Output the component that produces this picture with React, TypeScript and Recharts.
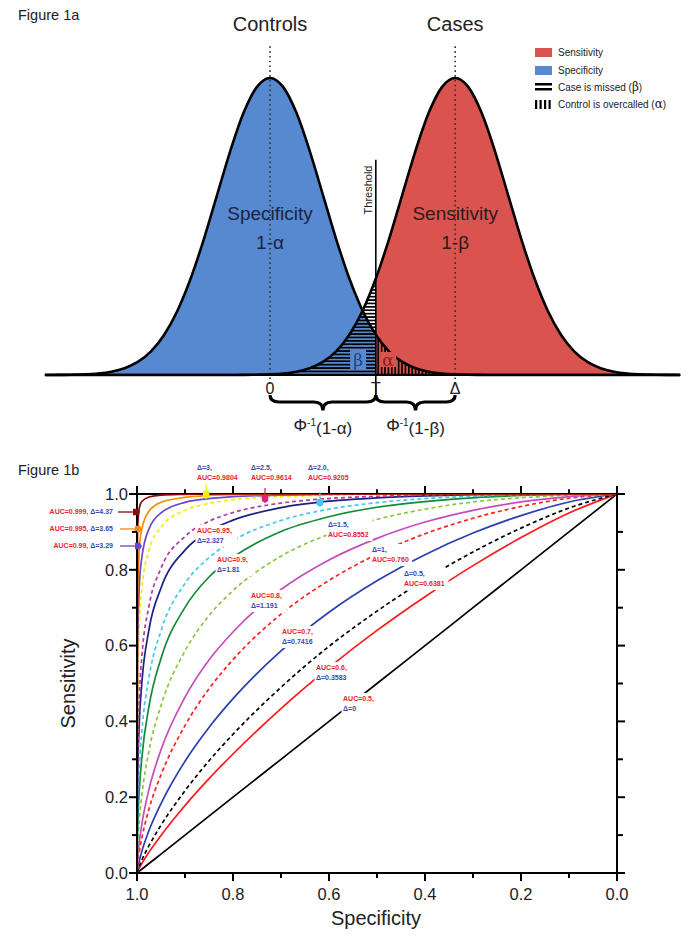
import React from 'react';
import {
  ComposedChart, Area, Line, XAxis, YAxis,
  ReferenceLine, ReferenceDot, ReferenceArea,
} from 'recharts';

const FONT = '"Liberation Sans", Arial, Helvetica, sans-serif';
const SERIF = '"DejaVu Serif", "Liberation Serif", serif';

// ---------- Figure 1a data ----------
const densityX = [-4.5, -4.25, -4, -3.75, -3.5, -3.25, -3, -2.75, -2.5, -2.25, -2, -1.75, -1.5, -1.25, -1, -0.75, -0.5, -0.25, 0, 0.25, 0.5, 0.75, 1, 1.25, 1.5, 1.75, 2, 2.25, 2.5, 2.75, 3, 3.25, 3.5, 3.75, 4, 4.25, 4.5, 4.75, 5, 5.25, 5.5, 5.75, 6, 6.25, 6.5, 6.75, 7, 7.25, 7.5, 7.75, 8];
const controlsDensity = [0, 0, 0.0001, 0.0004, 0.0009, 0.002, 0.0044, 0.0091, 0.0175, 0.0317, 0.054, 0.0863, 0.1295, 0.1826, 0.242, 0.3011, 0.3521, 0.3867, 0.3989, 0.3867, 0.3521, 0.3011, 0.242, 0.1826, 0.1295, 0.0863, 0.054, 0.0317, 0.0175, 0.0091, 0.0044, 0.002, 0.0009, 0.0004, 0.0001, 0, 0, 0, 0, 0, 0, 0, 0, 0, 0, 0, 0, 0, 0, 0, 0];
const casesDensity = [0, 0, 0, 0, 0, 0, 0, 0, 0, 0, 0, 0, 0, 0, 0, 0, 0.0001, 0.0004, 0.0009, 0.002, 0.0044, 0.0091, 0.0175, 0.0317, 0.054, 0.0863, 0.1295, 0.1826, 0.242, 0.3011, 0.3521, 0.3867, 0.3989, 0.3867, 0.3521, 0.3011, 0.242, 0.1826, 0.1295, 0.0863, 0.054, 0.0317, 0.0175, 0.0091, 0.0044, 0.002, 0.0009, 0.0004, 0.0001, 0, 0];
const controlMean = 0;
const caseMean = 3.5;
const threshold = 2.0;
const baselineFrom = -4.26;
const baselineTo = 7.76;

// ---------- Figure 1b data ----------
const specificity = [1, 0.999, 0.995, 0.99, 0.975, 0.95, 0.9, 0.85, 0.8, 0.7, 0.6, 0.5, 0.4, 0.3, 0.2, 0.1, 0];
const sensD0 = [0, 0.001, 0.005, 0.01, 0.025, 0.05, 0.1, 0.15, 0.2, 0.3, 0.4, 0.5, 0.6, 0.7, 0.8, 0.9, 1];
const sensD03583 = [0, 0.003, 0.013, 0.025, 0.055, 0.099, 0.178, 0.249, 0.314, 0.434, 0.542, 0.64, 0.729, 0.811, 0.885, 0.95, 1];
const sensD05 = [0, 0.005, 0.019, 0.034, 0.072, 0.126, 0.217, 0.296, 0.366, 0.49, 0.598, 0.691, 0.774, 0.847, 0.91, 0.963, 1];
const sensD07416 = [0, 0.009, 0.033, 0.057, 0.112, 0.183, 0.295, 0.384, 0.46, 0.586, 0.688, 0.771, 0.84, 0.897, 0.943, 0.979, 1];
const sensD1 = [0, 0.018, 0.058, 0.092, 0.169, 0.259, 0.389, 0.486, 0.563, 0.683, 0.772, 0.841, 0.895, 0.936, 0.967, 0.989, 1];
const sensD1191 = [0, 0.029, 0.083, 0.128, 0.221, 0.325, 0.464, 0.562, 0.636, 0.748, 0.826, 0.883, 0.926, 0.957, 0.979, 0.993, 1];
const sensD15 = [0, 0.056, 0.141, 0.204, 0.323, 0.442, 0.586, 0.679, 0.745, 0.836, 0.894, 0.933, 0.96, 0.979, 0.99, 0.997, 1];
const sensD181 = [0, 0.1, 0.222, 0.303, 0.44, 0.566, 0.701, 0.781, 0.833, 0.901, 0.94, 0.965, 0.98, 0.99, 0.996, 0.999, 1];
const sensD2 = [0, 0.138, 0.282, 0.372, 0.516, 0.639, 0.764, 0.832, 0.877, 0.93, 0.96, 0.977, 0.988, 0.994, 0.998, 0.9995, 1];
const sensD2327 = [0, 0.223, 0.402, 0.5, 0.643, 0.752, 0.852, 0.902, 0.931, 0.964, 0.981, 0.99, 0.995, 0.998, 0.999, 1, 1];
const sensD25 = [0, 0.278, 0.47, 0.569, 0.705, 0.804, 0.888, 0.928, 0.951, 0.976, 0.988, 0.994, 0.997, 0.999, 1, 1, 1];
const sensD3 = [0, 0.464, 0.664, 0.75, 0.851, 0.912, 0.957, 0.975, 0.985, 0.993, 0.997, 0.999, 1, 1, 1, 1, 1];
const sensD329 = [0, 0.579, 0.762, 0.832, 0.908, 0.95, 0.978, 0.988, 0.993, 0.997, 0.999, 1, 1, 1, 1, 1, 1];
const sensD365 = [0, 0.712, 0.859, 0.907, 0.955, 0.978, 0.991, 0.996, 0.998, 0.999, 1, 1, 1, 1, 1, 1, 1];
const sensD437 = [0, 0.9, 0.964, 0.98, 0.992, 0.997, 0.999, 1, 1, 1, 1, 1, 1, 1, 1, 1, 1];
const axisTicks = [0, 0.1, 0.2, 0.3, 0.4, 0.5, 0.6, 0.7, 0.8, 0.9, 1];

const BLUE = '#5689d0';
const RED = '#d9534f';
const TXT_RED = '#ee2030';
const TXT_BLUE = '#3a48a8';
const DASH = '4 3';

const rocSeries = [
  { key: 'd0', values: sensD0, color: '#000000', dash: undefined as string | undefined },
  { key: 'd03583', values: sensD03583, color: '#ff1a1a', dash: undefined },
  { key: 'd05', values: sensD05, color: '#000000', dash: DASH },
  { key: 'd07416', values: sensD07416, color: '#2b3fae', dash: undefined },
  { key: 'd1', values: sensD1, color: '#ff2020', dash: DASH },
  { key: 'd1191', values: sensD1191, color: '#c54cbf', dash: undefined },
  { key: 'd15', values: sensD15, color: '#8cc63f', dash: DASH },
  { key: 'd181', values: sensD181, color: '#138a36', dash: undefined },
  { key: 'd2', values: sensD2, color: '#45c8ea', dash: DASH },
  { key: 'd2327', values: sensD2327, color: '#1d2080', dash: undefined },
  { key: 'd25', values: sensD25, color: '#b5399f', dash: DASH },
  { key: 'd3', values: sensD3, color: '#f2ee00', dash: DASH },
  { key: 'd329', values: sensD329, color: '#6a48c6', dash: undefined },
  { key: 'd365', values: sensD365, color: '#ff8c00', dash: undefined },
  { key: 'd437', values: sensD437, color: '#8b0a0a', dash: undefined },
];

const inBase = (x: number) => x >= baselineFrom && x <= baselineTo;
const densityRows = densityX.map((x, i) => ({
  x,
  controls: inBase(x) ? controlsDensity[i] : null,
  cases: inBase(x) ? casesDensity[i] : null,
  specArea: inBase(x) && x <= threshold ? controlsDensity[i] : null,
  sensArea: inBase(x) && x >= threshold ? casesDensity[i] : null,
  betaArea: inBase(x) && x <= threshold ? casesDensity[i] : null,
  alphaArea: inBase(x) && x >= threshold ? controlsDensity[i] : null,
}));

const rocRows = specificity.map((s, i) => {
  const r: Record<string, number> = { spec: s };
  rocSeries.forEach((ser) => { r[ser.key] = ser.values[i]; });
  return r;
});

type LineSpec = { text: string; color: string };
const rocLabels: { spec: number; sens: number; lines: LineSpec[]; bg: boolean }[] = [
  { spec: 0.875, sens: 1.071, bg: false, lines: [{ text: 'Δ=3,', color: TXT_BLUE }, { text: 'AUC=0.9804', color: TXT_RED }] },
  { spec: 0.7625, sens: 1.071, bg: false, lines: [{ text: 'Δ=2.5,', color: TXT_BLUE }, { text: 'AUC=0.9614', color: TXT_RED }] },
  { spec: 0.644, sens: 1.071, bg: false, lines: [{ text: 'Δ=2.0,', color: TXT_BLUE }, { text: 'AUC=0.9205', color: TXT_RED }] },
  { spec: 0.875, sens: 0.9024, bg: true, lines: [{ text: 'AUC=0.95,', color: TXT_RED }, { text: 'Δ=2.327', color: TXT_BLUE }] },
  { spec: 0.8333, sens: 0.8259, bg: true, lines: [{ text: 'AUC=0.9,', color: TXT_RED }, { text: 'Δ=1.81', color: TXT_BLUE }] },
  { spec: 0.6021, sens: 0.9182, bg: true, lines: [{ text: 'Δ=1.5,', color: TXT_BLUE }, { text: 'AUC=0.8552', color: TXT_RED }] },
  { spec: 0.5104, sens: 0.8522, bg: true, lines: [{ text: 'Δ=1,', color: TXT_BLUE }, { text: 'AUC=0.760', color: TXT_RED }] },
  { spec: 0.4438, sens: 0.7889, bg: true, lines: [{ text: 'Δ=0.5,', color: TXT_BLUE }, { text: 'AUC=0.6381', color: TXT_RED }] },
  { spec: 0.7625, sens: 0.7309, bg: true, lines: [{ text: 'AUC=0.8,', color: TXT_RED }, { text: 'Δ=1.191', color: TXT_BLUE }] },
  { spec: 0.6979, sens: 0.6359, bg: true, lines: [{ text: 'AUC=0.7,', color: TXT_RED }, { text: 'Δ=0.7416', color: TXT_BLUE }] },
  { spec: 0.6271, sens: 0.5409, bg: true, lines: [{ text: 'AUC=0.6,', color: TXT_RED }, { text: 'Δ=0.3583', color: TXT_BLUE }] },
  { spec: 0.5708, sens: 0.4591, bg: true, lines: [{ text: 'AUC=0.5,', color: TXT_RED }, { text: 'Δ=0', color: TXT_BLUE }] },
];

const sideLabels = [
  { spec: 1.05, sens: 0.9525, auc: 'AUC=0.999,', delta: 'Δ=4.37' },
  { spec: 1.05, sens: 0.9077, auc: 'AUC=0.995,', delta: 'Δ=3.65' },
  { spec: 1.05, sens: 0.8628, auc: 'AUC=0.99,', delta: 'Δ=3.29' },
];
const sideArrows = [
  { spec: 0.9937, sens: 0.9525, color: '#8b0a0a' },
  { spec: 0.9896, sens: 0.9077, color: '#ff8c00' },
  { spec: 0.9896, sens: 0.8628, color: '#6a48c6' },
];
const topArrows = [
  { spec: 0.856, sens: 0.9868, color: '#f2ee00' },
  { spec: 0.7333, sens: 0.9763, color: '#e0207a' },
  { spec: 0.6188, sens: 0.9657, color: '#45c8ea' },
];

// ---------- helpers ----------
const isMajor = (v: number) => Math.round(v * 10) % 2 === 0;

const BottomTick = (p: any) => {
  const v = p.payload.value;
  return (
    <g>
      <line x1={p.x} x2={p.x} y1={p.y} y2={p.y + (isMajor(v) ? 8 : 5)} stroke="#000" strokeWidth={2} />
      {isMajor(v) && (
        <text x={p.x} y={p.y + 21} dy="0.35em" textAnchor="middle" fontSize={16.5} fill="#222" fontFamily={FONT}>{v.toFixed(1)}</text>
      )}
    </g>
  );
};
const LeftTick = (p: any) => {
  const v = p.payload.value;
  return (
    <g>
      <line x1={p.x} x2={p.x - (isMajor(v) ? 8 : 5)} y1={p.y} y2={p.y} stroke="#000" strokeWidth={2} />
      {isMajor(v) && (
        <text x={p.x - 9} y={p.y} dy="0.35em" textAnchor="end" fontSize={16.5} fill="#222" fontFamily={FONT}>{v.toFixed(1)}</text>
      )}
    </g>
  );
};
const RightTick = (p: any) => {
  const v = p.payload.value;
  return <line x1={p.x} x2={p.x + (isMajor(v) ? 8 : 6)} y1={p.y} y2={p.y} stroke="#000" strokeWidth={2} />;
};

// top frame + ticks drawn inside the box that the x scale gives for [1 .. 0] x [1 .. 1.021]
const topFrameShape = (p: any) => {
  const { x, y, width, height } = p;
  const bottom = y + height;
  return (
    <g>
      <line x1={x - 1} x2={x + width + 1} y1={bottom} y2={bottom} stroke="#000" strokeWidth={2} />
      {axisTicks.map((v) => {
        const tx = x + width * (1 - v);
        return (
          <line key={v} x1={tx} x2={tx} y1={bottom + 1} y2={bottom - (isMajor(v) ? height : height * 0.6)} stroke="#000" strokeWidth={2} />
        );
      })}
    </g>
  );
};

const textShape = (content: React.ReactNode, opts: any = {}) => (p: any) => (
  <text
    x={p.cx}
    y={p.cy}
    dy="0.35em"
    textAnchor={opts.anchor || 'middle'}
    fontSize={opts.size || 16}
    fill={opts.color || '#222'}
    fontFamily={opts.font || FONT}
    fontWeight={opts.weight || 'normal'}
    transform={opts.rotate ? `rotate(-90 ${p.cx} ${p.cy})` : undefined}
  >
    {content}
  </text>
);

const braceShape = (p: any) => {
  const { x, y, width: w, height: h } = p;
  const q = 9;
  const m = y + h * 0.45;
  const d = `M${x},${y} Q${x},${m} ${x + q},${m} L${x + w / 2 - q},${m} Q${x + w / 2},${m} ${x + w / 2},${y + h} Q${x + w / 2},${m} ${x + w / 2 + q},${m} L${x + w - q},${m} Q${x + w},${m} ${x + w},${y}`;
  return <path d={d} fill="none" stroke="#000" strokeWidth={3.2} />;
};

const Legend1a = () => (
  <svg width={160} height={80} style={{ position: 'absolute', left: 530, top: 40 }}>
    <rect x={5} y={8} width={17} height={9} fill={RED} />
    <text x={28} y={12.5} dy="0.35em" fontSize={10} fill="#222" fontFamily={FONT}>Sensitivity</text>
    <rect x={5} y={26} width={17} height={9} fill={BLUE} />
    <text x={28} y={30.5} dy="0.35em" fontSize={10} fill="#222" fontFamily={FONT}>Specificity</text>
    <rect x={5} y={43} width={17} height={2.5} fill="#000" />
    <rect x={5} y={48} width={17} height={2.5} fill="#000" />
    <text x={28} y={47} dy="0.35em" fontSize={10} fill="#222" fontFamily={FONT}>
      Case is missed (<tspan fontFamily={SERIF} fontSize={12}>β</tspan>)
    </text>
    <rect x={5} y={60} width={2.2} height={9} fill="#000" />
    <rect x={9.5} y={60} width={2.2} height={9} fill="#000" />
    <rect x={14} y={60} width={2.2} height={9} fill="#000" />
    <rect x={18.5} y={60} width={2.2} height={9} fill="#000" />
    <text x={28} y={64.5} dy="0.35em" fontSize={10} fill="#222" fontFamily={FONT}>
      Control is overcalled (<tspan fontFamily={SERIF} fontSize={12}>α</tspan>)
    </text>
  </svg>
);

const RocLabelShape = (lines: LineSpec[], bg: boolean) => (p: any) => {
  const lh = 10;
  const w = Math.max(...lines.map((l) => l.text.length)) * 4.3 + 3;
  return (
    <g>
      {bg && <rect x={p.cx - 1.5} y={p.cy - 6} width={w} height={lines.length * lh + 2} fill="#fff" />}
      {lines.map((l, i) => (
        <text key={i} x={p.cx} y={p.cy + i * lh} dy="0.35em" fontSize={7} fontWeight="bold" fill={l.color} fontFamily={FONT}>
          {l.text}
        </text>
      ))}
    </g>
  );
};

const sideLabelShape = (auc: string, delta: string) => (p: any) => (
  <text x={p.cx} y={p.cy} dy="0.35em" textAnchor="end" fontSize={7} fontWeight="bold" fontFamily={FONT}>
    <tspan fill={TXT_RED}>{auc} </tspan>
    <tspan fill={TXT_BLUE}>{delta}</tspan>
  </text>
);

const sideArrowShape = (color: string) => (p: any) => (
  <g>
    <line x1={p.cx - 22} x2={p.cx - 5} y1={p.cy} y2={p.cy} stroke={color} strokeWidth={1.3} />
    <path d={`M${p.cx - 7},${p.cy - 3.2} L${p.cx - 2},${p.cy - 3.2} L${p.cx},${p.cy} L${p.cx - 2},${p.cy + 3.2} L${p.cx - 7},${p.cy + 3.2} Z`} fill={color} />
  </g>
);
const topArrowShape = (color: string) => (p: any) => (
  <g>
    <line x1={p.cx} x2={p.cx} y1={p.cy - 15} y2={p.cy - 5} stroke={color} strokeWidth={1.3} />
    <path d={`M${p.cx - 3.2},${p.cy - 8} L${p.cx - 3.2},${p.cy - 2} L${p.cx},${p.cy} L${p.cx + 3.2},${p.cy - 2} L${p.cx + 3.2},${p.cy - 8} Z`} fill={color} />
  </g>
);

const Figure1a = () => (
  <div style={{ position: 'absolute', left: 0, top: 0 }}>
    <ComposedChart width={691} height={455} data={densityRows} margin={{ top: 0, right: 0, bottom: 0, left: 0 }}>
      <defs>
        <pattern id="hatchH" patternUnits="userSpaceOnUse" width={6} height={3.4}>
          <rect x={0} y={0} width={6} height={1.7} fill="#000" />
        </pattern>
        <pattern id="hatchV" patternUnits="userSpaceOnUse" width={3.4} height={6}>
          <rect x={0} y={0} width={1.6} height={6} fill="#000" />
        </pattern>
      </defs>
      <XAxis dataKey="x" type="number" domain={[-5.104, 7.958]} hide allowDataOverflow />
      <YAxis type="number" domain={[-0.1075, 0.5037]} hide allowDataOverflow />
      <Area dataKey="specArea" type="monotone" fill={BLUE} fillOpacity={1} stroke="none" baseValue={0} dot={false} activeDot={false} isAnimationActive={false} />
      <Area dataKey="sensArea" type="monotone" fill={RED} fillOpacity={1} stroke="none" baseValue={0} dot={false} activeDot={false} isAnimationActive={false} />
      <Area dataKey="betaArea" type="monotone" fill="url(#hatchH)" fillOpacity={1} stroke="none" baseValue={0} dot={false} activeDot={false} isAnimationActive={false} />
      <Area dataKey="alphaArea" type="monotone" fill="url(#hatchV)" fillOpacity={1} stroke="none" baseValue={0} dot={false} activeDot={false} isAnimationActive={false} />
      <ReferenceLine segment={[{ x: controlMean, y: -0.012 }, { x: controlMean, y: 0.443 }]} stroke="#333" strokeWidth={1.6} strokeDasharray="1.6 3.2" />
      <ReferenceLine segment={[{ x: caseMean, y: -0.012 }, { x: caseMean, y: 0.443 }]} stroke="#333" strokeWidth={1.6} strokeDasharray="1.6 3.2" />
      <ReferenceLine segment={[{ x: threshold, y: -0.027 }, { x: threshold, y: 0.289 }]} stroke="#000" strokeWidth={1.6} />
      <ReferenceLine segment={[{ x: baselineFrom, y: 0 }, { x: baselineTo, y: 0 }]} stroke="#000" strokeWidth={2.2} />
      <Line dataKey="controls" type="monotone" stroke="#000" strokeWidth={2.6} dot={false} activeDot={false} isAnimationActive={false} />
      <Line dataKey="cases" type="monotone" stroke="#000" strokeWidth={2.6} dot={false} activeDot={false} isAnimationActive={false} />
      <ReferenceDot x={controlMean} y={0.4715} r={0} shape={textShape('Controls', { size: 20, color: '#222' })} />
      <ReferenceDot x={caseMean} y={0.4715} r={0} shape={textShape('Cases', { size: 20, color: '#222' })} />
      <ReferenceDot x={controlMean} y={0.2176} r={0} shape={textShape('Specificity', { size: 19, color: '#1c2340' })} />
      <ReferenceDot x={controlMean} y={0.1786} r={0} shape={textShape('1-α', { size: 19, color: '#1c2340' })} />
      <ReferenceDot x={caseMean} y={0.2176} r={0} shape={textShape('Sensitivity', { size: 19, color: '#2a1c1c' })} />
      <ReferenceDot x={caseMean} y={0.1786} r={0} shape={textShape('1-β', { size: 19, color: '#2a1c1c' })} />
      <ReferenceDot x={1.854} y={0.2485} r={0} shape={textShape('Threshold', { size: 11, color: '#222', rotate: true })} />
      <ReferenceDot x={1.665} y={0.0201} r={0} shape={(p: any) => (
        <g>
          <rect x={p.cx - 8} y={p.cy - 10} width={16} height={19} fill={BLUE} />
          <text x={p.cx} y={p.cy} dy="0.35em" textAnchor="middle" fontSize={17} fill="#243e7a" fontFamily={SERIF}>β</text>
        </g>
      )} />
      <ReferenceDot x={2.232} y={0.0201} r={0} shape={(p: any) => (
        <g>
          <rect x={p.cx - 8} y={p.cy - 8} width={16} height={15} fill={RED} />
          <text x={p.cx} y={p.cy} dy="0.35em" textAnchor="middle" fontSize={17} fill="#8a1f1f" fontFamily={SERIF}>α</text>
        </g>
      )} />
      <ReferenceDot x={controlMean} y={-0.0175} r={0} shape={textShape('0', { size: 16 })} />
      <ReferenceDot x={threshold} y={-0.0175} r={0} shape={textShape('T', { size: 16 })} />
      <ReferenceDot x={caseMean} y={-0.0175} r={0} shape={textShape('Δ', { size: 16 })} />
      <ReferenceArea x1={controlMean} x2={threshold} y1={-0.027} y2={-0.0477} shape={braceShape} />
      <ReferenceArea x1={threshold} x2={caseMean} y1={-0.027} y2={-0.0477} shape={braceShape} />
      <ReferenceDot x={1.0} y={-0.0672} r={0} shape={textShape(
        <>
          <tspan>Φ</tspan><tspan dy="-0.5em" fontSize={10}>-1</tspan><tspan dy="0.5em">(1-α)</tspan>
        </>, { size: 17 })} />
      <ReferenceDot x={2.75} y={-0.0672} r={0} shape={textShape(
        <>
          <tspan>Φ</tspan><tspan dy="-0.5em" fontSize={10}>-1</tspan><tspan dy="0.5em">(1-β)</tspan>
        </>, { size: 17 })} />
    </ComposedChart>
  </div>
);

const Figure1b = () => (
  <div style={{ position: 'absolute', left: 0, top: 455 }}>
    <ComposedChart width={691} height={485} data={rocRows} margin={{ top: 39, right: 64, bottom: 27, left: 77 }}>
      <XAxis dataKey="spec" type="number" domain={[0, 1]} reversed allowDataOverflow ticks={axisTicks} interval={0}
        tickSize={0} tickMargin={0} tickLine={false} axisLine={{ stroke: '#000', strokeWidth: 2 }} height={40} tick={BottomTick} />
      <YAxis type="number" domain={[0, 1]} allowDataOverflow ticks={axisTicks} interval={0}
        tickSize={0} tickMargin={0} tickLine={false} axisLine={{ stroke: '#000', strokeWidth: 2 }} width={60} tick={LeftTick} />
      <YAxis yAxisId="r" orientation="right" type="number" domain={[0, 1]} allowDataOverflow ticks={axisTicks} interval={0}
        tickSize={0} tickMargin={0} tickLine={false} axisLine={{ stroke: '#000', strokeWidth: 2 }} width={10} tick={RightTick} />
      {rocSeries.map((s) => (
        <Line key={s.key} dataKey={s.key} type="monotone" stroke={s.color} strokeWidth={1.7}
          strokeDasharray={s.dash} dot={false} activeDot={false} isAnimationActive={false} />
      ))}
      <ReferenceArea x1={1} x2={0} y1={1} y2={1.021} ifOverflow="visible" shape={topFrameShape} />
      {rocLabels.map((l, i) => (
        <ReferenceDot key={'rl' + i} x={l.spec} y={l.sens} r={0} ifOverflow="visible" shape={RocLabelShape(l.lines, l.bg)} />
      ))}
      {sideLabels.map((l, i) => (
        <ReferenceDot key={'sl' + i} x={l.spec} y={l.sens} r={0} ifOverflow="visible" shape={sideLabelShape(l.auc, l.delta)} />
      ))}
      {sideArrows.map((a, i) => (
        <ReferenceDot key={'sa' + i} x={a.spec} y={a.sens} r={0} ifOverflow="visible" shape={sideArrowShape(a.color)} />
      ))}
      {topArrows.map((a, i) => (
        <ReferenceDot key={'ta' + i} x={a.spec} y={a.sens} r={0} ifOverflow="visible" shape={topArrowShape(a.color)} />
      ))}
      <ReferenceDot x={1.14375} y={0.5} r={0} ifOverflow="visible" shape={textShape('Sensitivity', { size: 20, rotate: true })} />
      <ReferenceDot x={0.502} y={-0.1187} r={0} ifOverflow="visible" shape={textShape('Specificity', { size: 20 })} />
    </ComposedChart>
  </div>
);

export default function App() {
  return (
    <div style={{ position: 'absolute', left: 0, top: 0, width: 691, height: 940, background: '#fff', fontFamily: FONT, overflow: 'hidden' }}>
      <div style={{ position: 'absolute', left: 18, top: 7, fontSize: 14.5, color: '#222', fontFamily: FONT }}>Figure 1a</div>
      <div style={{ position: 'absolute', left: 18, top: 462, fontSize: 14.5, color: '#222', fontFamily: FONT }}>Figure 1b</div>
      <Figure1a />
      <Legend1a />
      <Figure1b />
    </div>
  );
}
